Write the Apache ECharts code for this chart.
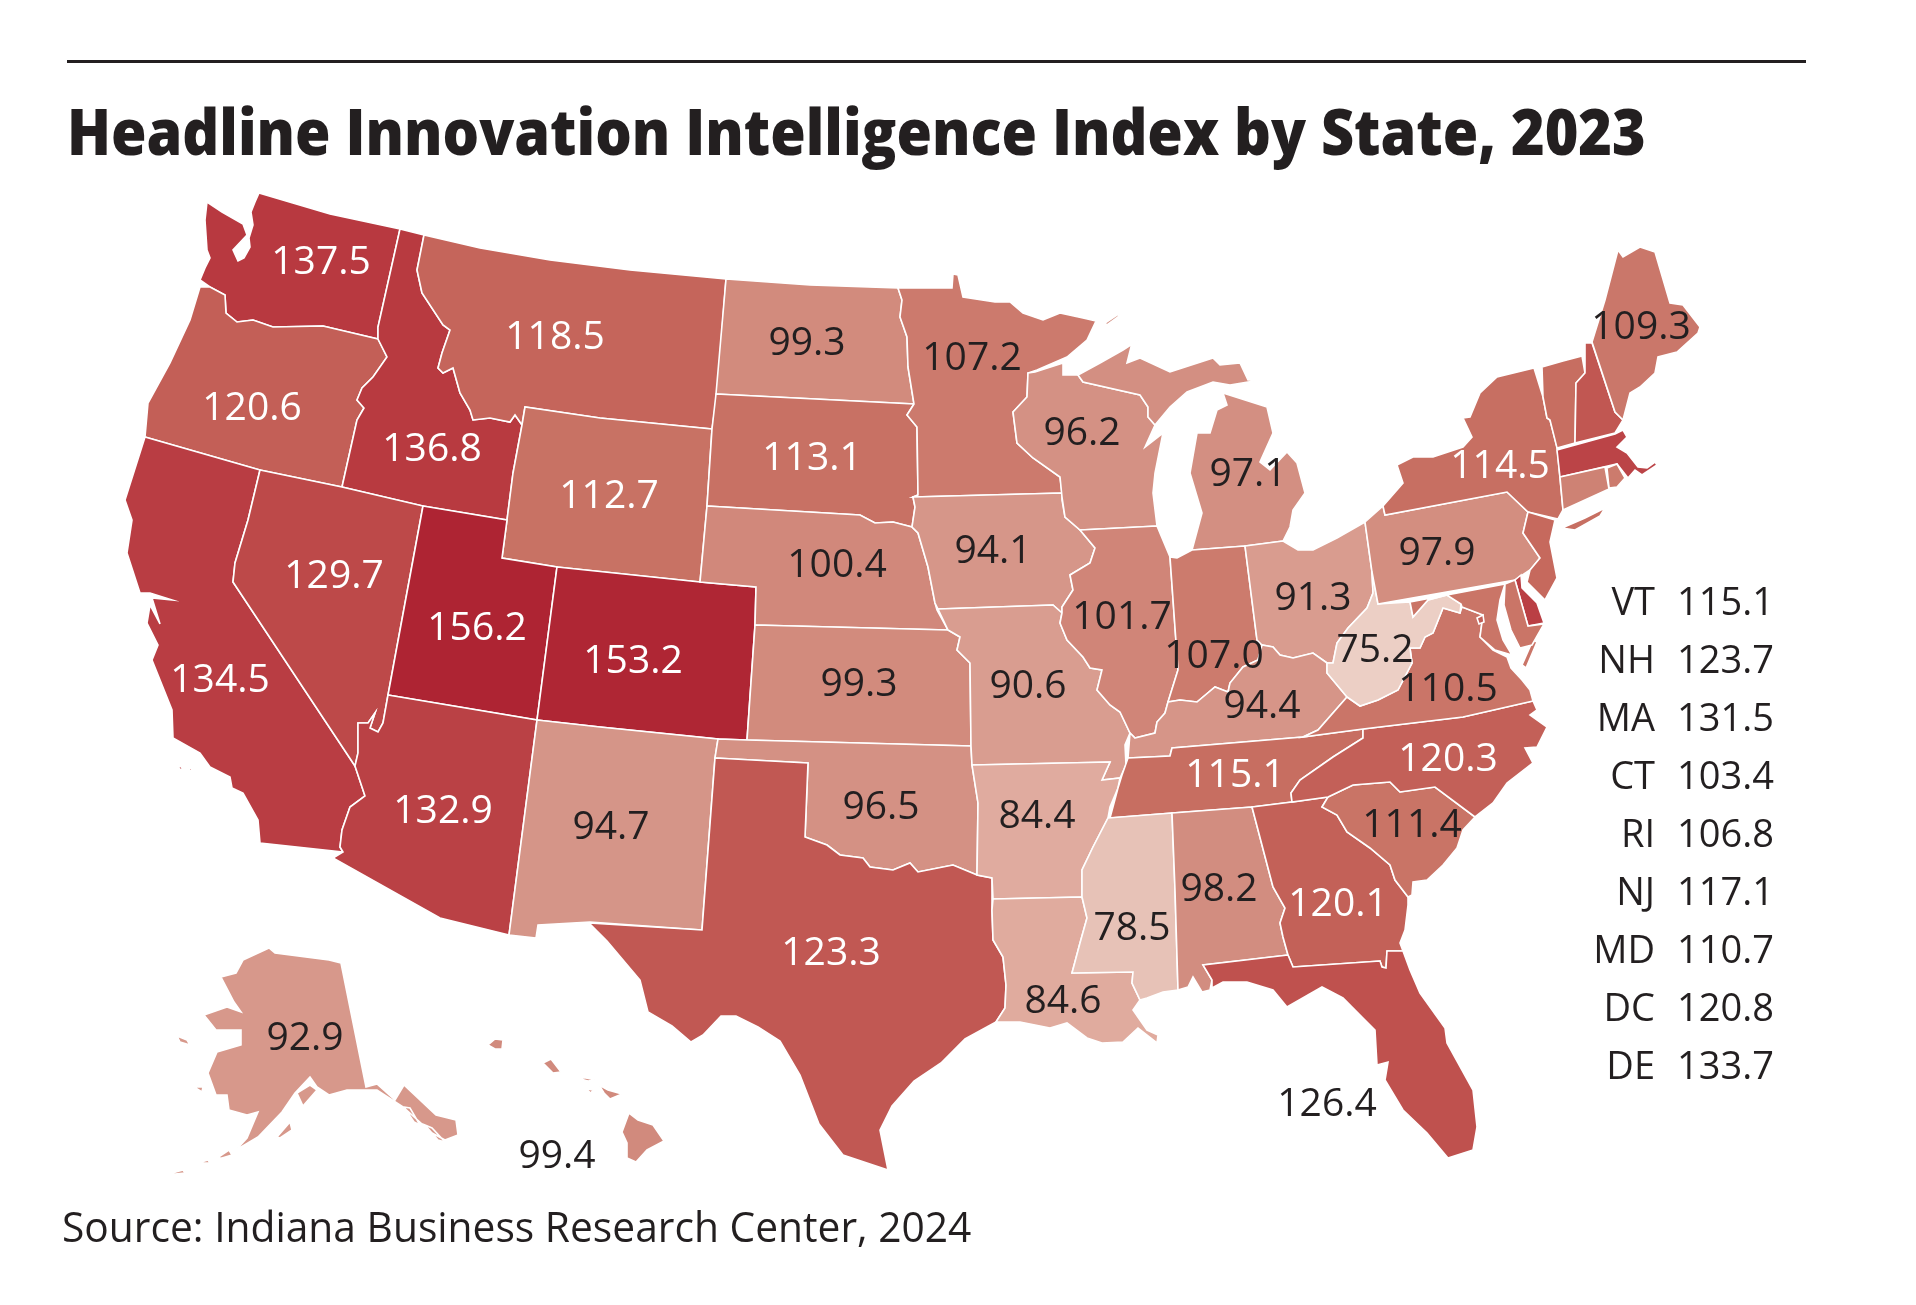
<!DOCTYPE html>
<html><head><meta charset="utf-8">
<style>html,body{margin:0;padding:0;background:#fff}#c{width:1916px;height:1305px}</style>
<script src="https://cdn.jsdelivr.net/npm/echarts@6/dist/echarts.min.js"></script>
</head><body><div id="c"></div>
<script>
const titleText = "Headline Innovation Intelligence Index by State, 2023";
const sourceText = "Source: Indiana Business Research Center, 2024";
const labelledStates = ["WA","OR","CA","ID","NV","MT","WY","UT","AZ","CO","NM","ND","SD","NE","KS","OK","TX","MN","IA","MO","AR","LA","WI","IL","MS","MI","IN","KY","TN","AL","OH","GA","FL","SC","NC","VA","WV","PA","NY","ME","AK","HI"];
const labelledValues = [137.5,120.6,134.5,136.8,129.7,118.5,112.7,156.2,132.9,153.2,94.7,99.3,113.1,100.4,99.3,96.5,123.3,107.2,94.1,90.6,84.4,84.6,96.2,101.7,78.5,97.1,107.0,94.4,115.1,98.2,91.3,120.1,126.4,111.4,120.3,110.5,75.2,97.9,114.5,109.3,92.9,99.4];
const whiteLabelStates = ["WA","OR","CA","ID","NV","MT","WY","UT","AZ","CO","SD","TX","TN","GA","NC","NY"];
const sideStates = ["VT","NH","MA","CT","RI","NJ","MD","DC","DE"];
const sideValues = [115.1,123.7,131.5,103.4,106.8,117.1,110.7,120.8,133.7];

const labelPoints = {WA:[321,261],OR:[252,407],CA:[220,679],ID:[432,448],NV:[334,575],MT:[555,336],WY:[609,495],UT:[477,627],AZ:[443,810],CO:[633,660],NM:[611,826],ND:[807,342],SD:[812,457],NE:[837,564],KS:[859,683],OK:[881,806],TX:[831,952],MN:[972,357],IA:[993,550],MO:[1028,685],AR:[1037,815],LA:[1063,1000],WI:[1082,432],IL:[1122,616],MS:[1132,927],MI:[1248,473],IN:[1214,655],KY:[1262,705],TN:[1235,774],AL:[1219,888],OH:[1313,597],GA:[1338,903],FL:[1327,1103],SC:[1412,824],NC:[1448,758],VA:[1448,688],WV:[1375,649],PA:[1437,552],NY:[1500,465],ME:[1641,326],AK:[305,1037],HI:[557,1155]};

const outlines = {
WA:[[[207,202],[222,212],[243,224],[247,235],[233,250],[238,261],[244,258],[250,247],[249,238],[253,225],[251,212],[255,202],[259,193],[330,214],[400,229],[378,327],[378,339],[323,326],[273,327],[253,320],[237,322],[226,313],[225,295],[210,287],[200,280],[205,268],[210,258],[207,250],[205,220]]],
OR:[[[200,287],[210,287],[225,295],[226,313],[237,322],[253,320],[273,327],[323,326],[378,339],[380,343],[387,357],[373,377],[362,388],[357,400],[364,408],[357,420],[342,487],[260,470],[145,437],[148,403],[170,363],[190,320]]],
CA:[[[145,437],[260,470],[248,520],[235,563],[233,582],[355,766],[365,796],[350,807],[342,830],[340,847],[343,852],[260,843],[258,820],[243,793],[232,788],[230,777],[210,767],[200,753],[173,738],[172,710],[152,660],[158,645],[147,623],[150,605],[160,624],[152,598],[172,600],[150,593],[140,593],[127,553],[132,520],[125,500]],[[178,765],[183,768],[180,770]],[[188,767],[192,769],[190,771]]],
ID:[[[400,229],[424,235],[417,270],[422,293],[443,325],[450,330],[442,353],[438,368],[443,373],[453,368],[460,393],[470,410],[473,420],[490,418],[510,422],[515,415],[522,425],[513,473],[507,520],[423,506],[342,487],[357,420],[364,408],[357,400],[362,388],[373,377],[387,357],[380,343],[378,339],[378,327]]],
NV:[[[260,470],[342,487],[423,506],[388,695],[383,723],[378,732],[370,728],[375,713],[368,723],[358,723],[358,753],[355,766],[233,582],[235,563],[248,520]]],
MT:[[[424,235],[480,248],[550,260],[630,270],[726,279],[717,394],[712,429],[600,418],[525,407],[522,425],[515,415],[510,422],[490,418],[473,420],[470,410],[460,393],[453,368],[443,373],[438,368],[442,353],[450,330],[443,325],[422,293],[417,270]]],
WY:[[[525,407],[600,418],[712,429],[707,506],[700,582],[557,567],[502,558],[507,520],[513,473],[522,425]]],
UT:[[[423,506],[507,520],[502,558],[557,567],[537,720],[388,695]]],
CO:[[[557,567],[700,582],[756,587],[755,625],[747,740],[718,739],[600,727],[537,720]]],
AZ:[[[388,695],[537,720],[509,935],[440,918],[333,858],[343,852],[340,847],[342,830],[350,807],[365,796],[355,766],[358,753],[358,723],[368,723],[375,713],[370,728],[378,732],[383,723]]],
NM:[[[537,720],[600,727],[718,739],[715,758],[702,930],[590,922],[538,925],[536,938],[509,935]]],
ND:[[[726,279],[810,285],[898,288],[902,300],[900,317],[907,337],[908,367],[914,404],[716,394]]],
SD:[[[716,394],[914,404],[907,415],[917,427],[918,495],[913,497],[915,507],[912,527],[893,522],[875,523],[860,515],[707,506],[712,429]]],
NE:[[[707,506],[860,515],[875,523],[893,522],[912,527],[918,533],[928,567],[935,603],[937,610],[948,630],[755,625],[756,587],[700,582]]],
KS:[[[755,625],[948,630],[960,637],[957,650],[970,663],[971,746],[747,740]]],
OK:[[[718,739],[747,740],[971,746],[972,765],[978,803],[977,875],[953,865],[918,872],[910,863],[893,870],[870,867],[863,858],[840,855],[827,845],[805,837],[808,763],[715,758]]],
TX:[[[715,758],[808,763],[805,837],[827,845],[840,855],[863,858],[870,867],[893,870],[910,863],[918,872],[953,865],[977,875],[992,878],[992,910],[993,940],[1003,957],[1006,985],[1005,1008],[996,1022],[965,1039],[941,1063],[914,1081],[892,1106],[880,1130],[888,1170],[843,1155],[819,1124],[800,1075],[780,1041],[758,1027],[736,1016],[721,1016],[703,1035],[691,1042],[672,1026],[648,1012],[640,980],[607,941],[589,923],[702,930]]],
MN:[[[898,288],[952,288],[953,274],[958,275],[963,297],[995,302],[1010,302],[1023,313],[1043,320],[1060,313],[1083,318],[1096,321],[1087,340],[1067,357],[1037,370],[1028,373],[1027,397],[1013,412],[1017,443],[1033,458],[1060,477],[1062,493],[913,497],[918,495],[917,427],[907,415],[914,404],[908,367],[907,337],[900,317],[902,300]]],
IA:[[[913,497],[1062,493],[1062,500],[1065,517],[1080,530],[1095,548],[1090,563],[1070,575],[1073,590],[1062,607],[1062,613],[1053,605],[938,609],[935,603],[928,567],[918,533],[912,527],[915,507]]],
MO:[[[938,609],[1053,605],[1062,613],[1060,623],[1067,640],[1083,657],[1090,668],[1102,670],[1097,690],[1110,705],[1120,712],[1130,733],[1125,745],[1126,765],[1120,778],[1102,780],[1110,762],[972,765],[971,746],[970,663],[957,650],[960,637],[948,630]]],
AR:[[[972,765],[1110,762],[1102,780],[1120,778],[1118,788],[1110,807],[1108,818],[1093,847],[1082,870],[1082,897],[993,899],[992,878],[977,875],[978,803]]],
LA:[[[993,899],[1082,897],[1087,918],[1080,943],[1072,973],[1133,972],[1132,983],[1140,1000],[1133,1010],[1147,1030],[1158,1035],[1157,1043],[1138,1028],[1123,1042],[1102,1043],[1087,1038],[1067,1023],[1050,1028],[1020,1022],[996,1022],[1005,1008],[1006,985],[1003,957],[993,940],[992,910]]],
WI:[[[1028,373],[1035,372],[1063,363],[1063,375],[1078,375],[1083,382],[1140,395],[1148,407],[1148,417],[1155,425],[1145,447],[1163,433],[1155,473],[1153,493],[1157,526],[1080,530],[1065,517],[1062,497],[1060,477],[1033,458],[1017,443],[1013,412],[1027,397]]],
IL:[[[1080,530],[1157,526],[1170,557],[1178,670],[1168,702],[1165,713],[1157,722],[1155,733],[1135,738],[1130,733],[1120,712],[1110,705],[1097,690],[1102,670],[1090,668],[1083,657],[1067,640],[1060,623],[1062,613],[1062,607],[1073,590],[1070,575],[1090,563],[1095,548]]],
MI:[[[1078,375],[1100,363],[1123,350],[1143,337],[1132,343],[1127,363],[1140,358],[1170,372],[1213,358],[1220,365],[1240,363],[1248,380],[1260,380],[1230,385],[1213,382],[1187,392],[1170,407],[1155,425],[1148,417],[1148,407],[1140,395],[1083,382]],[[1223,393],[1267,407],[1273,433],[1260,462],[1270,470],[1287,452],[1297,463],[1305,493],[1293,510],[1290,527],[1283,541],[1245,546],[1192,550],[1202,513],[1190,473],[1197,433],[1210,433],[1217,410],[1227,405]],[[1105,323],[1120,313],[1118,317],[1107,325]]],
IN:[[[1170,557],[1177,558],[1192,550],[1245,546],[1257,640],[1262,645],[1258,660],[1243,667],[1230,683],[1228,692],[1215,687],[1197,702],[1180,700],[1168,702],[1178,670]]],
OH:[[[1245,546],[1283,541],[1298,550],[1313,550],[1337,538],[1365,522],[1372,572],[1373,593],[1367,608],[1348,628],[1337,643],[1333,663],[1327,663],[1313,653],[1293,658],[1280,655],[1273,647],[1262,645],[1257,640]]],
KY:[[[1135,738],[1155,733],[1157,722],[1165,713],[1168,702],[1180,700],[1197,702],[1215,687],[1228,692],[1230,683],[1243,667],[1258,660],[1262,645],[1273,647],[1280,655],[1293,658],[1313,653],[1327,663],[1327,673],[1347,697],[1318,730],[1303,737],[1172,748],[1170,756],[1128,758],[1130,733]]],
TN:[[[1128,758],[1170,756],[1172,748],[1303,737],[1363,729],[1363,738],[1333,757],[1300,780],[1291,793],[1292,802],[1252,807],[1172,813],[1110,818],[1118,788],[1122,775]]],
MS:[[[1108,818],[1172,813],[1175,890],[1178,990],[1163,992],[1147,998],[1140,1000],[1132,983],[1133,972],[1072,973],[1080,943],[1087,918],[1082,897],[1082,870],[1093,847]]],
AL:[[[1172,813],[1252,807],[1273,887],[1285,908],[1280,923],[1283,937],[1288,955],[1203,965],[1212,980],[1210,990],[1202,992],[1193,977],[1188,987],[1178,990],[1175,890]]],
GA:[[[1252,807],[1292,802],[1328,797],[1322,807],[1337,815],[1347,832],[1370,848],[1390,865],[1395,880],[1408,897],[1408,905],[1405,930],[1400,943],[1403,951],[1387,951],[1386,968],[1382,967],[1380,961],[1293,967],[1288,955],[1283,937],[1280,923],[1285,908],[1273,887]]],
FL:[[[1203,965],[1288,955],[1293,967],[1380,961],[1382,967],[1386,968],[1387,951],[1403,951],[1410,970],[1420,993],[1445,1028],[1447,1043],[1473,1090],[1477,1127],[1473,1150],[1448,1158],[1427,1133],[1403,1110],[1385,1080],[1388,1062],[1377,1065],[1375,1030],[1362,1017],[1343,998],[1322,987],[1287,1007],[1273,990],[1247,982],[1223,982],[1212,988],[1212,980]]],
SC:[[[1322,807],[1328,797],[1353,785],[1390,782],[1400,792],[1435,787],[1475,817],[1463,830],[1457,848],[1443,865],[1427,880],[1413,882],[1412,895],[1408,897],[1395,880],[1390,865],[1370,848],[1347,832],[1337,815]]],
NC:[[[1363,729],[1463,717],[1533,701],[1537,710],[1530,715],[1547,727],[1537,747],[1525,748],[1533,763],[1507,783],[1493,803],[1475,817],[1435,787],[1400,792],[1390,782],[1353,785],[1328,797],[1292,802],[1291,793],[1300,780],[1333,757],[1363,738]]],
VA:[[[1303,737],[1318,730],[1347,697],[1360,706],[1378,700],[1398,690],[1412,663],[1410,648],[1420,648],[1425,637],[1433,633],[1443,608],[1460,613],[1462,607],[1483,615],[1480,637],[1493,650],[1507,657],[1511,668],[1522,680],[1530,690],[1533,701],[1463,717],[1363,729]],[[1533,640],[1537,642],[1526,668],[1522,665]]],
WV:[[[1372,572],[1378,604],[1410,602],[1413,617],[1428,600],[1447,595],[1461,604],[1460,613],[1443,608],[1433,633],[1425,637],[1420,648],[1410,648],[1412,663],[1398,690],[1378,700],[1360,706],[1347,697],[1327,673],[1327,663],[1333,663],[1337,643],[1348,628],[1367,608],[1373,593]]],
PA:[[[1365,522],[1383,506],[1385,515],[1507,492],[1528,512],[1523,533],[1540,558],[1530,570],[1515,580],[1378,604],[1372,572]]],
NY:[[[1385,515],[1383,506],[1403,483],[1397,465],[1413,457],[1433,457],[1463,447],[1472,437],[1463,418],[1470,417],[1480,393],[1497,377],[1534,368],[1543,397],[1547,418],[1550,420],[1557,447],[1563,510],[1558,519],[1528,512],[1507,492]],[[1562,528],[1585,518],[1605,508],[1600,516],[1575,530]]],
VT:[[[1542,367],[1563,361],[1582,356],[1585,373],[1576,383],[1575,443],[1557,448],[1550,420],[1547,418],[1543,397]]],
NH:[[[1585,343],[1592,343],[1615,412],[1623,420],[1615,433],[1575,443],[1576,383],[1585,373]]],
ME:[[[1592,342],[1605,300],[1618,250],[1623,257],[1640,247],[1655,252],[1670,303],[1683,305],[1700,327],[1698,333],[1677,352],[1658,357],[1655,373],[1640,387],[1630,393],[1623,420],[1615,412]]],
MA:[[[1557,450],[1615,434],[1623,430],[1627,437],[1617,447],[1627,453],[1638,467],[1647,468],[1655,462],[1657,465],[1642,475],[1635,470],[1628,478],[1617,464],[1560,477]]],
RI:[[[1607,468],[1617,464],[1625,478],[1617,487],[1609,488]]],
CT:[[[1560,477],[1605,467],[1609,489],[1563,510]]],
NJ:[[[1528,512],[1555,520],[1550,542],[1557,578],[1545,600],[1527,582],[1530,570],[1540,558],[1523,533]]],
DE:[[[1515,580],[1521,575],[1522,588],[1537,603],[1544,623],[1528,626]]],
MD:[[[1410,602],[1505,584],[1500,600],[1497,620],[1503,640],[1512,655],[1495,650],[1480,637],[1483,615],[1462,607],[1461,604],[1447,595],[1428,600],[1413,617]],[[1505,584],[1515,580],[1528,626],[1544,624],[1532,645],[1520,648],[1511,630],[1504,605]]],
DC:[[[1477,618],[1483,615],[1484,622],[1479,624]]],
AK:[[[269,948],[275,953],[329,960],[341,963],[366,1087],[377,1084],[395,1100],[404,1085],[436,1115],[456,1120],[458,1135],[445,1140],[432,1133],[403,1107],[377,1090],[347,1090],[329,1095],[317,1087],[310,1077],[295,1093],[282,1112],[258,1137],[236,1150],[247,1138],[258,1112],[247,1115],[229,1110],[227,1095],[216,1095],[208,1073],[217,1052],[241,1045],[241,1030],[216,1030],[204,1015],[227,1007],[241,1012],[234,1002],[221,977],[236,973],[243,960]],[[297,1093],[310,1085],[317,1090],[303,1106]],[[277,1137],[290,1122],[292,1130],[280,1138]],[[177,1036],[187,1040],[190,1045],[180,1042]],[[194,1087],[203,1087],[202,1092]],[[217,1158],[229,1150],[232,1155],[222,1158]],[[198,1163],[208,1160],[210,1163]],[[165,1175],[183,1170],[185,1173]],[[404,1107],[410,1108],[420,1125],[414,1122]],[[425,1125],[432,1128],[445,1142],[438,1140]]],
HI:[[[629,1113],[638,1120],[653,1125],[664,1141],[647,1150],[636,1162],[627,1158],[627,1143],[622,1132]],[[599,1085],[608,1090],[622,1094],[610,1099],[604,1093]],[[577,1078],[586,1078],[595,1080],[588,1081]],[[586,1089],[593,1090],[591,1093]],[[543,1063],[551,1059],[561,1072],[553,1073]],[[488,1045],[495,1039],[503,1040],[502,1049],[495,1049]]]
};

const features = Object.keys(outlines).map(code => ({
  type:"Feature",
  properties:{name:code, cp:labelPoints[code] || outlines[code][0][0]},
  geometry:{type:"MultiPolygon", coordinates:outlines[code].map(r => [r.concat([r[0]])])}
}));
echarts.registerMap("usStates",{type:"FeatureCollection",features});

const ink = "#231f20";
const font = "'Open Sans','Noto Sans',sans-serif";
const mapData = labelledStates.map((s,i)=>({name:s,value:labelledValues[i],
  label:{show:true,color:whiteLabelStates.includes(s)?"#ffffff":ink}}))
  .concat(sideStates.map((s,i)=>({name:s,value:sideValues[i],label:{show:false}})));

const sideGraphics = [];
sideStates.forEach((s,i)=>{
  const y = 604 + i*58;
  sideGraphics.push({type:"text",x:1655,y,style:{text:s,fill:ink,font:"38px "+font,align:"right",verticalAlign:"middle"}});
  sideGraphics.push({type:"text",x:1677,y,style:{text:sideValues[i].toFixed(1),fill:ink,font:"38px "+font,align:"left",verticalAlign:"middle"}});
});

const chart = echarts.init(document.getElementById("c"),null,{renderer:"canvas",width:1916,height:1305});
chart.setOption({
  animation:false,
  backgroundColor:"#ffffff",
  visualMap:{show:false,type:"continuous",min:75,max:155,seriesIndex:0,
    inRange:{color:["#ecd0c6","#dfa99c","#d59487","#cd7e70","#c76e61","#c05450","#b93c42","#b33039","#ae2433"]}},
  series:[{type:"map",map:"usStates",roam:false,silent:true,
    projection:{project:p=>p,unproject:p=>p},
    boundingCoords:[[0,0],[1916,1305]],
    left:0,top:0,right:0,bottom:0,
    itemStyle:{borderColor:"#ffffff",borderWidth:1.6},
    emphasis:{disabled:true},select:{disabled:true},
    label:{show:true,fontFamily:font,fontSize:39,offset:[0,2],
      formatter:p=>Number(p.value).toFixed(1)},
    data:mapData}],
  graphic:[
    {type:"rect",shape:{x:67,y:60,width:1739,height:3},style:{fill:ink}},
    {type:"text",x:67,y:137,style:{text:titleText,fill:ink,font:"800 64px "+font,verticalAlign:"middle"},scaleX:0.898},
    {type:"text",x:62,y:1230,style:{text:sourceText,fill:ink,font:"42px "+font,verticalAlign:"middle"},scaleX:0.97}
  ].concat(sideGraphics)
});
</script></body></html>
